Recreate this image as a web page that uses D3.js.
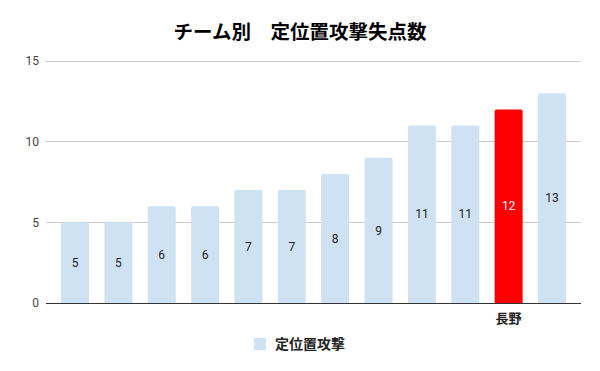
<!DOCTYPE html>
<html><head><meta charset="utf-8">
<script src="https://cdn.jsdelivr.net/npm/d3@7"></script>
<style>body{margin:0;background:#fff}svg{display:block}</style>
</head><body>
<script>
const teams = ["t1","t2","t3","t4","t5","t6","t7","t8","t9","t10","長野","t12"];
const teamLabels = ["","","","","","","","","","","長野",""];
const values = [5,5,6,6,7,7,8,9,11,11,12,13];
const highlight = "長野";
const yTicks = [0,5,10,15];
const title = "チーム別　定位置攻撃失点数";
const seriesName = "定位置攻撃";

const W=600,H=371;
const svg=d3.select("body").append("svg").attr("width",W).attr("height",H);
svg.append("rect").attr("width",W).attr("height",H).attr("fill","#fff");
const x=d3.scaleBand().domain(teams).range([46,581]).paddingInner(0.354).paddingOuter(0.346);
const y=d3.scaleLinear().domain([0,15]).range([303,61]);
const jp="'Noto Sans CJK JP','Noto Sans',sans-serif";
const rb="Roboto,Arial,sans-serif";

svg.append("g").selectAll("line").data(yTicks.filter(d=>d>0)).join("line")
  .attr("x1",46).attr("x2",581).attr("y1",d=>y(d)).attr("y2",d=>y(d))
  .attr("stroke","#cccccc").attr("stroke-width",1).attr("shape-rendering","crispEdges");
svg.append("g").selectAll("text").data(yTicks).join("text")
  .attr("x",39).attr("y",d=>y(d)).attr("dy","0.35em").attr("text-anchor","end")
  .attr("font-family",rb).attr("font-size",12).attr("fill","#444").text(d=>d);

const r=2;
svg.append("g").selectAll("path").data(values).join("path")
  .attr("d",(d,i)=>{const x0=x(teams[i]),w=x.bandwidth(),y0=y(d),y1=y(0);
    return `M${x0},${y1}V${y0+r}Q${x0},${y0} ${x0+r},${y0}H${x0+w-r}Q${x0+w},${y0} ${x0+w},${y0+r}V${y1}Z`;})
  .attr("fill",(d,i)=>teams[i]===highlight?"#ff0000":"#cfe2f3");

svg.append("g").selectAll("text").data(values).join("text")
  .attr("x",(d,i)=>x(teams[i])+x.bandwidth()/2).attr("y",d=>(y(d)+y(0))/2).attr("dy","0.35em")
  .attr("text-anchor","middle").attr("font-family",rb).attr("font-size",12)
  .attr("fill",(d,i)=>teams[i]===highlight?"#ffffff":"#222").text(d=>d);

svg.append("line").attr("x1",46).attr("x2",581).attr("y1",y(0)).attr("y2",y(0))
  .attr("stroke","#333").attr("stroke-width",1).attr("shape-rendering","crispEdges");

svg.append("g").selectAll("text").data(teamLabels).join("text")
  .attr("x",(d,i)=>x(teams[i])+x.bandwidth()/2).attr("y",323)
  .attr("text-anchor","middle").attr("font-family",jp).attr("font-size",13).attr("font-weight","bold")
  .attr("fill","#222").text(d=>d);

svg.append("text").attr("x",300).attr("y",39).attr("text-anchor","middle")
  .attr("font-family",jp).attr("font-size",19.5).attr("font-weight","bold").attr("fill","#000").text(title);

svg.append("rect").attr("x",254).attr("y",338).attr("width",12).attr("height",12).attr("fill","#cfe2f3");
svg.append("text").attr("x",275).attr("y",349).attr("font-family",jp).attr("font-size",14)
  .attr("font-weight","bold").attr("fill","#222").text(seriesName);
</script>
</body></html>
